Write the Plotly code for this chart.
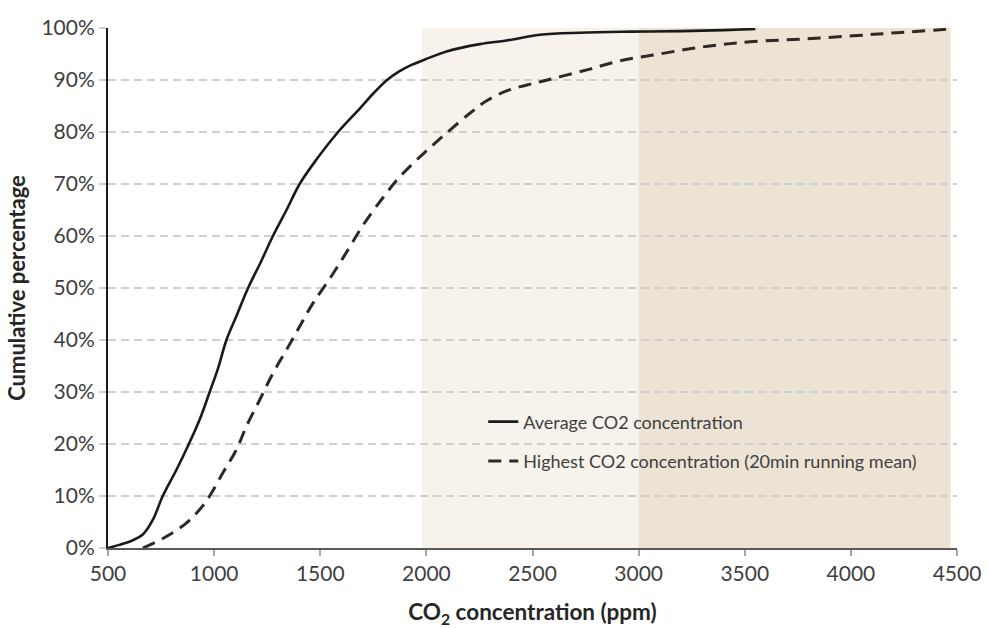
import plotly.graph_objects as go

# ---- data ----
avg_x = [500, 554, 617, 664, 711, 758, 822, 881, 932, 979, 1018, 1058, 1105, 1160,
         1220, 1277, 1341, 1403, 1482, 1584, 1686, 1750, 1812, 1870, 1930, 2009,
         2095, 2252, 2378, 2535, 2724, 2960, 3200, 3400, 3550]
avg_y = [0, 0.6, 1.5, 2.6, 5.4, 10, 15, 20, 24.7, 30, 34.5, 40, 44.6, 50,
         55, 60, 65, 70, 74.7, 80, 84.5, 87.4, 89.9, 91.6, 92.9, 94.2,
         95.5, 96.9, 97.6, 98.7, 99.1, 99.3, 99.4, 99.6, 99.8]

high_x = [664, 775, 869, 932, 979, 1042, 1105, 1152, 1215, 1277, 1341, 1403, 1466,
          1545, 1624, 1702, 1796, 1875, 1985, 2095, 2205, 2284, 2378, 2470, 2551,
          2645, 2771, 2913, 3070, 3227, 3384, 3541, 3777, 4013, 4217, 4469]
high_y = [0, 2.2, 4.8, 7.4, 10, 14.5, 18.9, 23.4, 28.5, 33.6, 38.1, 42.6, 47.1,
          51.8, 56.9, 62.1, 67.4, 71.4, 75.8, 79.8, 83.6, 86.0, 87.9, 89.0, 89.8,
          90.8, 92.1, 93.7, 94.8, 95.9, 96.8, 97.4, 97.9, 98.5, 99.1, 99.8]

zone_edges = [1978, 3000, 4470]          # shaded concentration bands
zone_colors = ["#F7F3EC", "#EDE3D4"]

x_ticks = [500, 1000, 1500, 2000, 2500, 3000, 3500, 4000, 4500]
y_ticks = [0, 10, 20, 30, 40, 50, 60, 70, 80, 90, 100]
y_ticktext = [f"{v}%" for v in y_ticks]

series_names = ["Average CO2 concentration",
                "Highest CO2 concentration (20min running mean)"]

FONT = "Lato"
TEXT = "#404040"

fig = go.Figure()

fig.add_trace(go.Scatter(
    x=avg_x, y=avg_y, mode="lines", name=series_names[0],
    line=dict(color="#1a1a1a", width=2.6, shape="spline", smoothing=1.0),
    legendgroup="a"))
fig.add_trace(go.Scatter(
    x=high_x, y=high_y, mode="lines", name=series_names[1],
    line=dict(color="#2e2924", width=3, dash="13px,8px", shape="spline", smoothing=1.0),
    legendgroup="b"))

for i in range(len(zone_colors)):
    fig.add_shape(type="rect", xref="x", yref="y",
                  x0=zone_edges[i], x1=zone_edges[i + 1], y0=0, y1=100,
                  fillcolor=zone_colors[i], line=dict(width=0), layer="below")

fig.update_layout(
    width=988, height=628,
    margin=dict(l=108, r=31, t=28, b=80),
    paper_bgcolor="white", plot_bgcolor="white",
    font=dict(family=FONT, color=TEXT),
    legend=dict(x=0.442, y=0.278, xanchor="left", yanchor="top",
                bgcolor="rgba(0,0,0,0)", font=dict(size=18, color="#404040"),
                traceorder="grouped", tracegroupgap=13),
    showlegend=True,
)

fig.update_xaxes(
    range=[500, 4500], tickmode="array", tickvals=x_ticks,
    showgrid=False, zeroline=False, automargin=False,
    showline=True, linecolor="#595959", linewidth=2,
    ticks="outside", ticklen=6, tickcolor="#A6A6A6", tickwidth=1.5,
    tickfont=dict(size=21, color=TEXT, family=FONT),
    title=dict(text="<b>CO<sub>2</sub> concentration (ppm)</b>",
               font=dict(size=22.5, color="#262626", family=FONT), standoff=24),
)
fig.update_yaxes(
    range=[0, 100], tickmode="array", tickvals=y_ticks, ticktext=y_ticktext,
    showgrid=True, gridcolor="#CFCFCF", gridwidth=1.5, griddash="8px,5px",
    zeroline=False, automargin=False,
    showline=True, linecolor="#1a1a1a", linewidth=2,
    ticks="outside", ticklen=7, tickcolor="#CFCFCF", tickwidth=1.5,
    tickfont=dict(size=21, color=TEXT, family=FONT),
    title=dict(text="<b>Cumulative percentage</b>",
               font=dict(size=22, color="#262626", family=FONT), standoff=10),
)

fig.write_html("out.html")
